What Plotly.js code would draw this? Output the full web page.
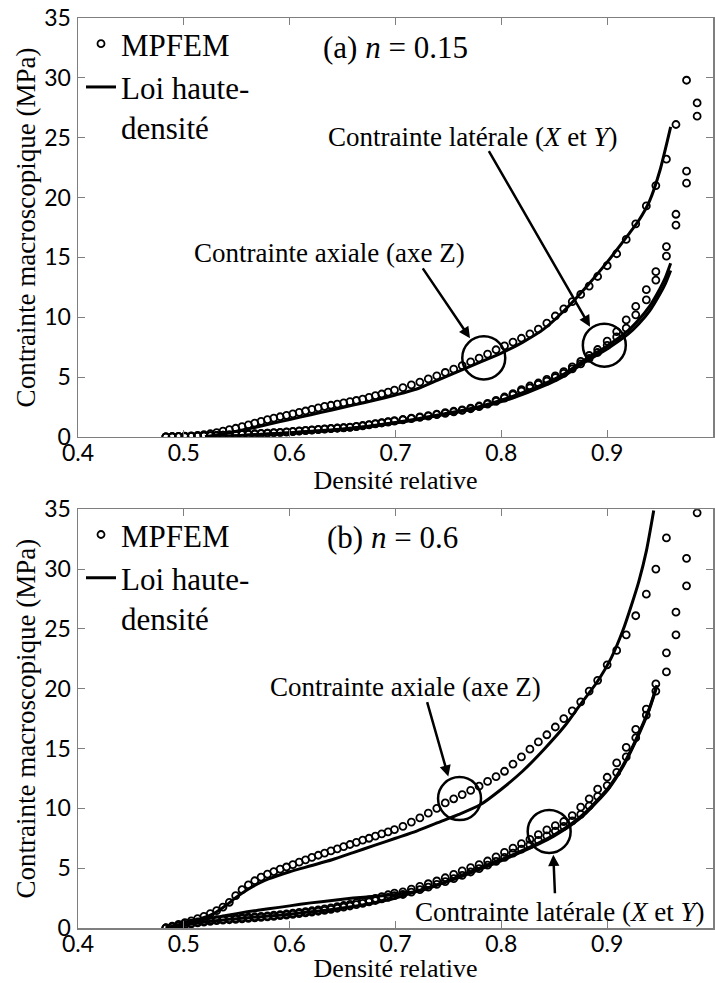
<!DOCTYPE html>
<html>
<head>
<meta charset="utf-8">
<script src="https://cdn.plot.ly/plotly-3.0.1.min.js"></script>
<style>html,body{margin:0;padding:0;background:#fff;}#chart{width:715px;height:983px;}</style>
</head>
<body>
<div id="chart"></div>
<script>
// ---------- DATA ----------
// Relative density (shared sampling of the MPFEM simulations)
const densite = [0.483,0.489,0.495,0.501,0.507,0.513,0.519,0.525,0.531,0.537,0.543,0.549,0.555,0.561,0.567,0.573,0.579,0.585,0.591,0.597,0.603,0.609,0.615,0.621,0.627,0.633,0.639,0.645,0.651,0.657,0.663,0.669,0.675,0.681,0.687,0.693,0.699,
  0.707,0.715,0.723,0.731,0.739,0.747,0.755,0.763,0.771,0.779,0.787,0.795,0.803,0.811,0.819,0.827,0.835,0.843,0.851,0.859,0.867,0.875,0.883,0.891,
  0.900,0.909,0.918,0.927,0.937,0.946,0.956,0.965,0.975,0.985];

// (a) n = 0.15 — MPFEM
const a_axialZ = [0,0.02,0.04,0.06,0.08,0.12,0.18,0.26,0.36,0.48,0.6,0.72,0.86,1.0,1.15,1.3,1.44,1.56,1.68,1.8,1.92,2.04,2.16,2.3,2.42,2.54,2.64,2.74,2.84,2.94,3.04,3.16,3.3,3.44,3.58,3.74,3.9,
  4.12,4.34,4.58,4.84,5.1,5.38,5.66,5.96,6.26,6.58,6.92,7.28,7.6,7.92,8.24,8.6,9.0,9.5,10.1,10.7,11.3,11.9,12.6,13.4,
  14.3,15.3,16.5,17.8,19.3,21.0,23.2,26.1,29.8,null];
const a_latX = [0,0.01,0.02,0.03,0.05,0.07,0.09,0.11,0.13,0.15,0.17,0.19,0.21,0.23,0.26,0.29,0.32,0.35,0.38,0.42,0.46,0.5,0.54,0.58,0.62,0.66,0.7,0.74,0.78,0.82,0.87,0.95,1.03,1.11,1.19,1.27,1.35,
  1.45,1.56,1.67,1.78,1.9,2.02,2.14,2.26,2.4,2.58,2.8,3.05,3.33,3.62,3.95,4.25,4.5,4.8,5.1,5.45,5.85,6.3,6.8,7.3,
  8.0,8.8,9.77,10.9,12.3,13.8,15.9,18.6,22.2,27.9];
const a_latY = [0,0.01,0.02,0.03,0.04,0.06,0.08,0.1,0.12,0.14,0.16,0.18,0.2,0.22,0.24,0.27,0.3,0.33,0.36,0.4,0.44,0.48,0.52,0.56,0.6,0.64,0.68,0.72,0.76,0.8,0.85,0.92,1.0,1.08,1.16,1.24,1.32,
  1.42,1.52,1.63,1.74,1.85,1.97,2.09,2.21,2.35,2.52,2.73,2.97,3.24,3.52,3.82,4.1,4.38,4.66,4.96,5.3,5.68,6.1,6.55,7.05,
  7.65,8.35,9.08,10.2,11.45,13.1,15.1,17.7,21.2,26.8];

// (a) n = 0.15 — Loi haute-densité
const a_loiAxX = [0.52,0.54,0.56,0.58,0.60,0.62,0.64,0.66,0.68,0.70,0.72,0.74,0.76,0.78,0.80,0.82,0.84,0.86,0.88,0.90,0.92,0.93,0.94,0.95,0.96];
const a_loiAxZ = [0,0.3,0.65,1.05,1.45,1.85,2.25,2.65,3.05,3.5,4.0,4.75,5.5,6.25,7.0,7.9,9.0,10.6,12.5,14.6,16.9,18.1,19.7,22.3,25.9];
const a_loiLatD = [0.52,0.55,0.60,0.65,0.70,0.75,0.78,0.81,0.84,0.86,0.88,0.90,0.92,0.93,0.94,0.95,0.955,0.96];
const a_loiLatX = [0,0.1,0.35,0.65,1.2,2.0,2.55,3.35,4.4,5.3,6.5,7.6,8.9,9.8,10.9,12.4,13.3,14.5];
const a_loiLatY = [0,0.1,0.33,0.62,1.15,1.92,2.45,3.22,4.25,5.12,6.3,7.35,8.6,9.45,10.5,11.95,12.8,13.9];

// (b) n = 0.6 — MPFEM
const b_axialZ = [0,0.15,0.3,0.45,0.6,0.78,0.98,1.2,1.45,1.75,2.15,2.7,3.2,3.6,3.95,4.25,4.5,4.72,4.92,5.1,5.3,5.5,5.7,5.9,6.08,6.26,6.44,6.62,6.8,6.98,7.16,7.34,7.5,7.68,7.86,8.04,8.22,
  8.5,8.85,9.2,9.6,10.0,10.45,10.8,11.15,11.5,11.85,12.25,12.65,13.1,13.7,14.3,14.95,15.55,16.15,16.8,17.5,18.15,18.9,19.8,20.7,
  22.0,23.2,24.5,26.1,27.9,30.0,32.6,null,null,null];
const b_latX = [0,0.1,0.2,0.3,0.4,0.5,0.58,0.65,0.7,0.74,0.78,0.82,0.86,0.9,0.94,0.98,1.02,1.07,1.12,1.18,1.24,1.3,1.37,1.44,1.52,1.6,1.68,1.78,1.88,1.98,2.1,2.22,2.35,2.48,2.62,2.78,2.92,
  3.02,3.25,3.48,3.7,3.93,4.2,4.48,4.78,5.05,5.3,5.6,5.95,6.32,6.68,7.05,7.4,7.8,8.2,8.55,8.9,9.4,10.1,10.8,11.6,
  12.6,13.8,15.1,16.6,18.3,20.4,23.0,26.4,30.9,34.7];
const b_latY = [0,0.08,0.17,0.26,0.35,0.43,0.5,0.56,0.61,0.65,0.69,0.73,0.77,0.81,0.85,0.89,0.93,0.98,1.03,1.08,1.14,1.2,1.26,1.33,1.4,1.48,1.56,1.65,1.74,1.84,1.95,2.06,2.18,2.3,2.43,2.56,2.7,
  2.8,3.0,3.2,3.42,3.64,3.88,4.12,4.4,4.68,4.96,5.25,5.57,5.9,6.25,6.6,6.95,7.32,7.7,8.1,8.5,8.95,9.5,10.2,11.0,
  11.9,13.0,14.3,15.9,17.8,19.8,21.4,24.5,28.6,null];

// (b) n = 0.6 — Loi haute-densité
const b_loiAxD = [0.483,0.50,0.52,0.53,0.54,0.55,0.56,0.57,0.58,0.60,0.62,0.64,0.66,0.68,0.70,0.72,0.74,0.76,0.78,0.80,0.82,0.84,0.86,0.874,0.89,0.904,0.915,0.923,0.93,0.937,0.944];
const b_loiAxZ = [0,0.35,0.9,1.3,1.9,2.6,3.2,3.7,4.1,4.7,5.2,5.7,6.3,6.9,7.5,8.1,8.8,9.5,10.3,11.6,13.1,14.9,16.9,18.6,20.5,22.6,24.9,27.0,29.0,31.5,34.9];
const b_loiLatD = [0.483,0.50,0.52,0.54,0.56,0.58,0.60,0.62,0.64,0.66,0.68,0.70,0.725,0.75,0.788,0.81,0.835,0.85,0.866,0.88,0.901,0.915,0.929,0.94,0.947];
const b_loiLatX = [0,0.25,0.5,0.7,0.85,1.0,1.15,1.35,1.55,1.8,2.1,2.5,3.2,3.9,5.2,6.0,7.0,7.7,8.6,9.6,11.6,13.5,16.0,18.3,20.2];
const b_loiLatY = [0,0.35,0.72,1.05,1.35,1.6,1.85,2.1,2.3,2.5,2.65,2.8,3.15,3.95,5.3,6.1,7.1,7.8,8.7,9.7,11.7,13.6,16.1,18.4,20.3];

// Tick labels
const xTickVals = [0.4,0.5,0.6,0.7,0.8,0.9,1];
const xTickText = ['0.4','0.5','0.6','0.7','0.8','0.9','1'];
const yTickVals = [0,5,10,15,20,25,30,35];
const yTickText = ['0','5','10','15','20','25','30','35'];

// Texts
const nomMPFEM = 'MPFEM';
const nomLoi = 'Loi haute-<br>densité';
const titreX = 'Densité relative';
const titreY = 'Contrainte macroscopique (MPa)';
const labelA = '(a) <i>n</i> = 0.15';
const labelB = '(b) <i>n</i> = 0.6';
const txtAxial = 'Contrainte axiale (axe Z)';
const txtLat = 'Contrainte latérale (<i>X</i> et <i>Y</i>)';

// ---------- STYLE ----------
const SERIF = 'Liberation Serif, Times New Roman, serif';
const SANS = 'Lato, Open Sans, sans-serif';
const GREY = '#7f7f7f';

function mk(x, y, xa, ya, legend, show, name) {
  return {x: x, y: y, xaxis: xa, yaxis: ya, type: 'scatter', mode: 'markers',
    marker: {symbol: 'circle-open', size: 7, color: '#000', line: {width: 1.8, color: '#000'}},
    name: name || nomMPFEM, showlegend: !!show, legend: legend, cliponaxis: true, hoverinfo: 'skip'};
}
function ln(x, y, xa, ya, legend, show) {
  return {x: x, y: y, xaxis: xa, yaxis: ya, type: 'scatter', mode: 'lines',
    line: {color: '#000', width: 3, shape: 'spline', smoothing: 0.6},
    name: nomLoi, showlegend: !!show, legend: legend, cliponaxis: true, hoverinfo: 'skip'};
}

const traces = [
  mk(densite, a_axialZ, 'x', 'y', 'legend', true),
  mk(densite, a_latX, 'x', 'y', 'legend', false),
  mk(densite, a_latY, 'x', 'y', 'legend', false),
  ln(a_loiAxX, a_loiAxZ, 'x', 'y', 'legend', true),
  ln(a_loiLatD, a_loiLatX, 'x', 'y', 'legend', false),
  ln(a_loiLatD, a_loiLatY, 'x', 'y', 'legend', false),
  mk(densite, b_axialZ, 'x2', 'y2', 'legend2', true),
  mk(densite, b_latX, 'x2', 'y2', 'legend2', false),
  mk(densite, b_latY, 'x2', 'y2', 'legend2', false),
  ln(b_loiAxD, b_loiAxZ, 'x2', 'y2', 'legend2', true),
  ln(b_loiLatD, b_loiLatX, 'x2', 'y2', 'legend2', false),
  ln(b_loiLatD, b_loiLatY, 'x2', 'y2', 'legend2', false)
];

const W = 715, H = 983;
const M = {l: 78, r: 2, t: 18, b: 54.7};
const PH = H - M.t - M.b;             // plot-area height
const PW = W - M.l - M.r;             // plot-area width
const fy = py => (H - M.b - py) / PH;  // pixel row -> paper fraction
const fx = px => (px - M.l) / PW;      // pixel col -> paper fraction

function xAx(anchor, so) {
  return {domain: [0, 1], anchor: anchor, range: [0.4, 1], tickvals: xTickVals, ticktext: xTickText,
    ticks: 'inside', ticklen: 7, tickwidth: 1, tickcolor: GREY, showline: true, linecolor: GREY, linewidth: 1.5,
    mirror: 'allticks', showgrid: false, zeroline: false, fixedrange: true, ticklabelstandoff: -5,
    tickfont: {family: SANS, size: 23, color: '#000'},
    title: {text: titreX, font: {family: SERIF, size: 26, color: '#000'}, standoff: so}};
}
function yAx(anchor, d0, d1) {
  return {domain: [Math.max(0, fy(d1)), Math.min(1, fy(d0))], anchor: anchor, range: [0, 35], tickvals: yTickVals, ticktext: yTickText,
    ticks: 'inside', ticklen: 7, tickwidth: 1, tickcolor: GREY, showline: true, linecolor: GREY, linewidth: 1.5,
    mirror: 'allticks', showgrid: false, zeroline: false, fixedrange: true, ticklabelstandoff: 1,
    tickfont: {family: SANS, size: 23, color: '#000'},
    title: {text: titreY, font: {family: SERIF, size: 27, color: '#000'}, standoff: 1}};
}

const RX = 0.0203, RY = 1.8;
function circ(xr, yr, cx, cy) {
  return {type: 'circle', xref: xr, yref: yr, x0: cx - RX, x1: cx + RX, y0: cy - RY, y1: cy + RY,
    line: {color: '#000', width: 2.5}};
}
function arrow(xr, yr, x0, y0, x1, y1) {
  return {xref: xr, yref: yr, axref: xr, ayref: yr, x: x1, y: y1, ax: x0, ay: y0, text: '',
    showarrow: true, arrowhead: 2, arrowsize: 0.9, arrowwidth: 2.5, arrowcolor: '#000', standoff: 0, startstandoff: 0};
}
function label(xr, yr, x, y, text, size) {
  return {xref: xr, yref: yr, x: x, y: y, text: text, showarrow: false, xanchor: 'center', yanchor: 'middle',
    font: {family: SERIF, size: size, color: '#000'}};
}

const layout = {
  width: W, height: H, margin: M,
  paper_bgcolor: '#fff', plot_bgcolor: '#fff',
  xaxis: xAx('y', 3), yaxis: yAx('x', 18, 437),
  xaxis2: xAx('y2', 3), yaxis2: yAx('x2', 509.4, 928.3),
  legend: {x: fx(81), xanchor: 'left', y: fy(17), yanchor: 'top', bgcolor: 'rgba(0,0,0,0)',
    font: {family: SERIF, size: 31, color: '#000'}, valign: 'top', tracegroupgap: 0, itemwidth: 30},
  legend2: {x: fx(81), xanchor: 'left', y: fy(508), yanchor: 'top', bgcolor: 'rgba(0,0,0,0)',
    font: {family: SERIF, size: 31, color: '#000'}, valign: 'top', tracegroupgap: 0, itemwidth: 30},
  shapes: [
    circ('x', 'y', 0.7834, 6.6), circ('x', 'y', 0.8973, 7.66),
    circ('x2', 'y2', 0.7605, 10.82), circ('x2', 'y2', 0.8452, 8.07)
  ],
  annotations: [
    label('x', 'y', 0.700, 32.5, labelA, 31),
    label('x', 'y', 0.6376, 15.4, txtAxial, 27),
    label('x', 'y', 0.7723, 25.06, txtLat, 27),
    arrow('x', 'y', 0.7248, 14.2, 0.7704, 8.25),
    arrow('x', 'y', 0.7874, 24.0, 0.8838, 9.21),
    label('x2', 'y2', 0.6972, 32.6, labelB, 31),
    label('x2', 'y2', 0.709, 20.17, txtAxial, 27),
    label('x2', 'y2', 0.8545, 1.36, txtLat, 27),
    arrow('x2', 'y2', 0.7295, 19.0, 0.7499, 12.66),
    arrow('x2', 'y2', 0.8507, 2.78, 0.8491, 6.12)
  ]
};

Plotly.newPlot('chart', traces, layout, {staticPlot: true, displayModeBar: false});
</script>
</body>
</html>
